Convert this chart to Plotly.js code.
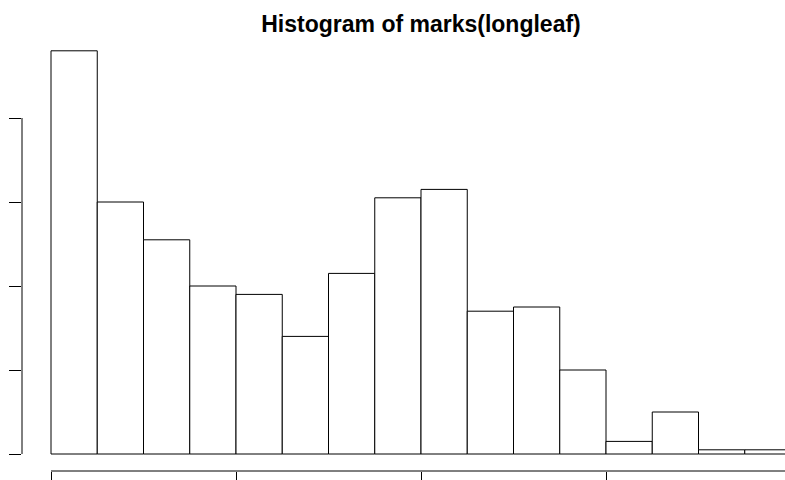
<!DOCTYPE html>
<html>
<head>
<meta charset="utf-8">
<script src="https://cdn.plot.ly/plotly-3.0.1.min.js"></script>
<style>html,body{margin:0;padding:0;background:#fff;}#plot{width:785px;height:480px;}</style>
</head>
<body>
<div id="plot"></div>
<script>
// Histogram bin breaks (DBH, cm) and counts
const breaks = [0,5,10,15,20,25,30,35,40,45,50,55,60,65,70,75,80];
const counts = [96,60,51,40,38,28,43,61,63,34,35,20,3,10,1,1];
const xTicks = [0,20,40,60,80];
const yTicks = [0,20,40,60,80];

const centers = counts.map((c,i)=> (breaks[i]+breaks[i+1])/2);
const widths = counts.map((c,i)=> breaks[i+1]-breaks[i]);

const trace = {
  type:'bar', x:centers, y:counts, width:widths,
  marker:{color:'#ffffff', line:{color:'#000000', width:1}},
  hoverinfo:'skip'
};

const layout = {
  width:785, height:480,
  margin:{l:22, r:0, t:40, b:9},
  paper_bgcolor:'#ffffff', plot_bgcolor:'#ffffff',
  showlegend:false,
  title:{text:'<b>Histogram of marks(longleaf)</b>', font:{family:'Liberation Sans, Arial, sans-serif', size:23, color:'#000'},
         x:421/785, xref:'container', xanchor:'center', y:1-24/480, yref:'container', yanchor:'middle'},
  xaxis:{range:[-29/9.25, 79.351], showgrid:false, zeroline:false, showline:false,
         tickmode:'array', tickvals:xTicks, ticks:'outside', ticklen:12, tickwidth:1, tickcolor:'#000',
         showticklabels:false, fixedrange:true},
  yaxis:{range:[-17/4.2, 98.571], showgrid:false, zeroline:false, showline:false,
         tickmode:'array', tickvals:yTicks, ticks:'outside', ticklen:12, tickwidth:1, tickcolor:'#000',
         showticklabels:false, fixedrange:true},
  shapes:[
    {type:'line', xref:'paper', yref:'y', x0:0, x1:0, y0:yTicks[0], y1:yTicks[yTicks.length-1], line:{color:'#000', width:1}},
    {type:'line', xref:'x', yref:'paper', x0:xTicks[0], x1:xTicks[xTicks.length-1], y0:0, y1:0, line:{color:'#000', width:1}}
  ]
};

Plotly.newPlot('plot', [trace], layout, {displayModeBar:false, staticPlot:true});
</script>
</body>
</html>
